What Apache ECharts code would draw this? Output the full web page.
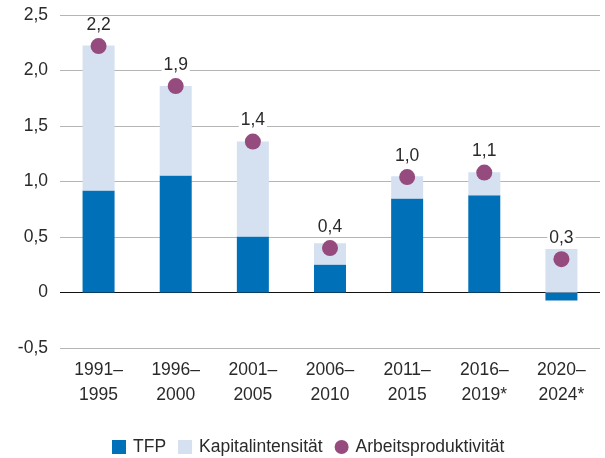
<!DOCTYPE html>
<html><head><meta charset="utf-8">
<script src="https://cdn.jsdelivr.net/npm/echarts@6/dist/echarts.min.js"></script>
<style>html,body{margin:0;padding:0;background:#fff}#c{width:605px;height:458px}</style>
</head><body><div id="c"></div>
<script>
var categories = ['1991–\n1995','1996–\n2000','2001–\n2005','2006–\n2010','2011–\n2015','2016–\n2019*','2020–\n2024*'];
var tfp = [0.92, 1.054, 0.505, 0.252, 0.847, 0.877, -0.072];
var kapital = [1.305, 0.806, 0.855, 0.192, 0.201, 0.207, 0.393];
var arbeit = [2.22, 1.86, 1.36, 0.40, 1.04, 1.08, 0.30];
var arbeitLabels = ['2,2','1,9','1,4','0,4','1,0','1,1','0,3'];
var yTicks = ['-0,5','0','0,5','1,0','1,5','2,0','2,5'];

var FONT = 'Liberation Sans, Arial, Helvetica, sans-serif';
var FS = 17.5;
var chart = echarts.init(document.getElementById('c'), null, {renderer:'canvas'});
chart.setOption({
  animation:false,
  textStyle:{fontFamily:FONT},
  grid:{left:60,right:5,top:15,bottom:110},
  legend:{
    left:107, top:433, itemWidth:14, itemHeight:14, itemGap:12,
    textStyle:{fontSize:FS,color:'#2a2a2a',fontFamily:FONT,padding:[0,0,0,2]},
    data:[{name:'TFP',icon:'rect'},{name:'Kapitalintensität',icon:'rect'},{name:'Arbeitsproduktivität',icon:'circle'}]
  },
  xAxis:{
    type:'category', data:categories,
    axisLine:{show:false,onZero:false}, axisTick:{show:false},
    axisLabel:{fontSize:FS,color:'#2a2a2a',lineHeight:25,margin:10,fontFamily:FONT}
  },
  yAxis:{
    type:'value', min:-0.5, max:2.5, interval:0.5,
    axisLine:{show:false}, axisTick:{show:false},
    axisLabel:{fontSize:FS,color:'#2a2a2a',margin:12,fontFamily:FONT,
      formatter:function(v){var i=Math.round((v+0.5)/0.5);return yTicks[i];}},
    splitLine:{lineStyle:{color:['#b5b5b5','#111','#b5b5b5','#b5b5b5','#b5b5b5','#b5b5b5','#b5b5b5'],width:1}}
  },
  series:[
    {name:'TFP',type:'bar',stack:'a',data:tfp,barWidth:32,itemStyle:{color:'#0070b8'}},
    {name:'Kapitalintensität',type:'bar',stack:'a',data:kapital,barWidth:32,itemStyle:{color:'#d5e0f1'}},
    {name:'Arbeitsproduktivität',type:'scatter',data:arbeit,symbolSize:16,z:5,
      itemStyle:{color:'#954b7e',opacity:1},
      label:{show:true,position:'top',distance:4,fontSize:FS,color:'#2a2a2a',fontFamily:FONT,
        backgroundColor:'#fff',padding:[0,2],
        formatter:function(p){return arbeitLabels[p.dataIndex];}}}
  ]
});
</script></body></html>
